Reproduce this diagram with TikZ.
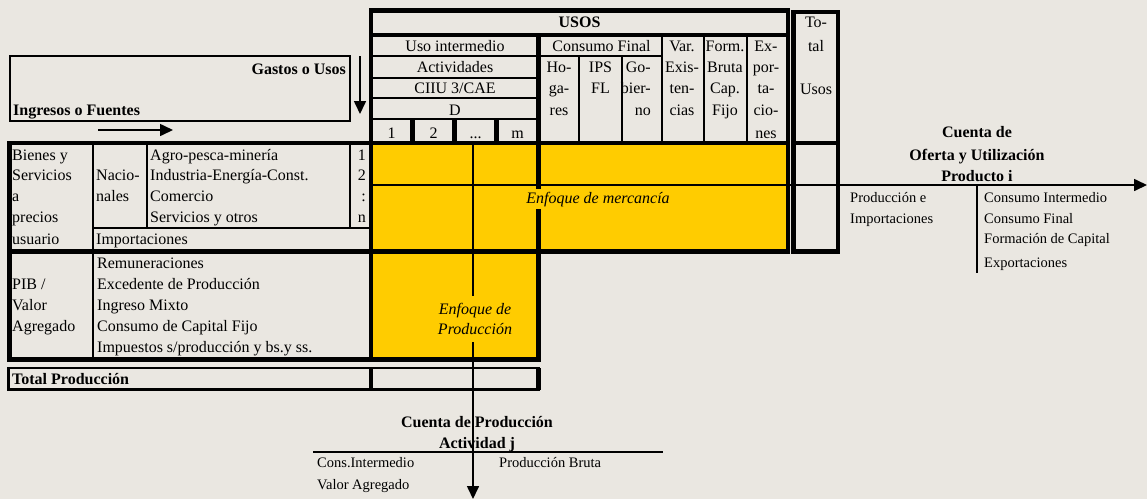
\documentclass[tikz,border=0pt]{standalone}
\usepackage{fontspec}
\setmainfont{Liberation Serif}
\usetikzlibrary{arrows.meta}
\definecolor{papel}{RGB}{234,231,225}
\definecolor{oro}{RGB}{255,204,0}
\tikzset{
  thk/.style={line width=4.5pt},
  thn/.style={line width=1.6pt},
  txt/.style={inner sep=0pt, font=\fontsize{16}{19}\selectfont},
  neg/.style={inner sep=0pt, font=\fontsize{16}{19}\selectfont\bfseries},
  cta/.style={inner sep=0pt, font=\fontsize{14.5}{17}\selectfont},
  flecha/.style={line width=1.6pt, -{Triangle[length=13pt,width=12pt]}},
}

\begin{document}
\begin{tikzpicture}[x=1pt,y=-1pt]
\fill[papel] (0,0) rectangle (1147,499);
\useasboundingbox (0,0) rectangle (1147,499);
\fill[oro] (371,143) rectangle (788,251.5);
\fill[oro] (371,251.5) rectangle (538.5,359.5);

\coordinate (usoA) at (360,56);
\coordinate (usoB) at (360,114);
\coordinate (ingA) at (98,130);
\coordinate (ingB) at (173,130);
\coordinate (mercA) at (373,185);
\coordinate (mercB) at (1147,185);
\coordinate (prodA) at (473,145);
\coordinate (prodB) at (473,499);
\draw[flecha] (usoA) -- (usoB);
\draw[flecha] (ingA) -- (ingB);
\draw[flecha] (mercA) -- (mercB);
\draw[flecha] (prodA) -- (prodB);

\draw[line width=1.8pt] (10,56) rectangle (350,121);
\node[neg, anchor=base east] (gastos) at (346,74) {Gastos o Usos};
\node[neg, anchor=base west] (ingresos) at (13,115) {Ingresos o Fuentes};

\draw[thk] (371,10.5) rectangle (788,143);
\draw[line width=4pt] (371,34.5) -- (788,34.5);
\draw[thk] (538.5,34.5) -- (538.5,143);
\draw[thn] (371,56) -- (662,56);
\draw[thn] (371,78) -- (538.5,78);
\draw[thn] (371,98) -- (538.5,98);
\draw[thn] (371,119) -- (538.5,119);
\draw[thn] (579,56) -- (579,143);
\draw[thn] (622,56) -- (622,143);
\draw[thn] (662,34.5) -- (662,143);
\draw[thn] (704,34.5) -- (704,143);
\draw[thn] (747,34.5) -- (747,143);
\draw[line width=5pt] (412.5,119) -- (412.5,143);
\draw[line width=5pt] (454.5,119) -- (454.5,143);
\draw[line width=5pt] (496.5,119) -- (496.5,143);
\draw[thk] (793.5,12) rectangle (838,143);
\draw[thk] (793.5,143) rectangle (838,251.5);

\node[neg, anchor=base] (usos) at (579.5,27) {USOS};
\node[txt, anchor=base] (usoint) at (455,51) {Uso intermedio};
\node[txt, anchor=base] (activ) at (455,72) {Actividades};
\node[txt, anchor=base] (ciiu) at (455,93) {CIIU 3/CAE};
\node[txt, anchor=base] (dd) at (455,115) {D};
\node[txt, anchor=base] (act1) at (391.5,138) {1};
\node[txt, anchor=base] (act2) at (433.5,138) {2};
\node[txt, anchor=base] (actp) at (475.5,138) {...};
\node[txt, anchor=base] (actm) at (517.5,138) {m};
\node[txt, anchor=base] (consfin) at (601.5,51) {Consumo Final};
\node[txt, anchor=base] (hog1) at (559,72) {Ho-};
\node[txt, anchor=base] (hog2) at (559,93) {ga-};
\node[txt, anchor=base] (hog3) at (559,115) {res};
\node[txt, anchor=base] (ips1) at (600.5,72) {IPS};
\node[txt, anchor=base] (ips2) at (600.5,93) {FL};
\node[txt, anchor=base east] (gob1) at (651,72) {Go-};
\node[txt, anchor=base east] (gob2) at (651,93) {bier-};
\node[txt, anchor=base east] (gob3) at (651,115) {no};
\node[txt, anchor=base] (var1) at (682,51) {Var.};
\node[txt, anchor=base] (var2) at (682,72) {Exis-};
\node[txt, anchor=base] (var3) at (682,93) {ten-};
\node[txt, anchor=base] (var4) at (682,115) {cias};
\node[txt, anchor=base] (fbk1) at (725,51) {Form.};
\node[txt, anchor=base] (fbk2) at (725,72) {Bruta};
\node[txt, anchor=base] (fbk3) at (725,93) {Cap.};
\node[txt, anchor=base] (fbk4) at (725,115) {Fijo};
\node[txt, anchor=base] (exp1) at (766,51) {Ex-};
\node[txt, anchor=base] (exp2) at (766,72) {por-};
\node[txt, anchor=base] (exp3) at (766,93) {ta-};
\node[txt, anchor=base] (exp4) at (766,115) {cio-};
\node[txt, anchor=base] (exp5) at (766,138) {nes};
\node[txt, anchor=base] (tot1) at (816,27) {To-};
\node[txt, anchor=base] (tot2) at (816,51) {tal};
\node[txt, anchor=base] (tot3) at (816,94) {Usos};

\draw[thk] (9.5,143) rectangle (788,251.5);
\draw[thk] (371,143) -- (371,251.5);
\draw[thk] (538.5,143) -- (538.5,251.5);
\draw[thn] (93,143) -- (93,251.5);
\draw[thn] (147,143) -- (147,228);
\draw[thn] (350,143) -- (350,228);
\draw[thn] (93,228) -- (371,228);
\node[txt, anchor=base west] (bs1) at (12,160) {Bienes y};
\node[txt, anchor=base west] (bs2) at (12,180) {Servicios};
\node[txt, anchor=base west] (bs3) at (12,201) {a};
\node[txt, anchor=base west] (bs4) at (12,222) {precios};
\node[txt, anchor=base west] (bs5) at (12,244) {usuario};
\node[txt, anchor=base west] (nac1) at (96,180) {Nacio-};
\node[txt, anchor=base west] (nac2) at (96,201) {nales};
\node[txt, anchor=base west] (agro) at (150,160) {Agro-pesca-minería};
\node[txt, anchor=base west] (indus) at (150,180) {Industria-Energía-Const.};
\node[txt, anchor=base west] (comer) at (150,201) {Comercio};
\node[txt, anchor=base west] (servi) at (150,222) {Servicios y otros};
\node[txt, anchor=base west] (impor) at (96,244) {Importaciones};
\node[txt, anchor=base east] (prod1) at (366,160) {1};
\node[txt, anchor=base east] (prod2) at (366,180) {2};
\node[txt, anchor=base east] (prod3) at (366,201) {:};
\node[txt, anchor=base east] (prodn) at (366,222) {n};
\node[txt, anchor=base, fill=oro, inner xsep=3pt, inner ysep=3pt, font=\fontsize{16}{19}\selectfont\itshape] (merc) at (598,203) {Enfoque de mercancía};

\draw[thk] (9.5,251.5) rectangle (538.5,359.5);
\draw[thk] (371,251.5) -- (371,359.5);
\draw[thn] (93,251.5) -- (93,359.5);
\node[txt, anchor=base west] (pib1) at (12,289) {PIB /};
\node[txt, anchor=base west] (pib2) at (12,310) {Valor};
\node[txt, anchor=base west] (pib3) at (12,331) {Agregado};
\node[txt, anchor=base west] (remu) at (97,268) {Remuneraciones};
\node[txt, anchor=base west] (exce) at (97,289) {Excedente de Producción};
\node[txt, anchor=base west] (mixto) at (97,310) {Ingreso Mixto};
\node[txt, anchor=base west] (ckf) at (97,331) {Consumo de Capital Fijo};
\node[txt, anchor=base west] (impu) at (97,352) {Impuestos s/producción y bs.y ss.};
\node[fill=oro, inner xsep=4pt, inner ysep=7pt, align=center, font=\fontsize{16}{20}\selectfont\itshape] (enfprod) at (475,319) {Enfoque de\\Producción};

\draw[line width=2.5pt] (8.5,368) rectangle (538.5,389.5);
\draw[thk] (371,368) -- (371,389.5);
\draw[thk] (538.5,368) -- (538.5,389.5);
\node[neg, anchor=base west] (totprod) at (12,384) {Total Producción};

\node[neg, anchor=base] (cof1) at (977,137) {Cuenta de};
\node[neg, anchor=base] (cof2) at (977,160) {Oferta y Utilización};
\node[neg, anchor=base] (cof3) at (977,181) {Producto i};
\draw[line width=2pt] (847,185) -- (1093,185);
\draw[thn] (977,185) -- (977,273);
\node[cta, anchor=base west] (ofe1) at (850,202.5) {Producción e};
\node[cta, anchor=base west] (ofe2) at (850,223.5) {Importaciones};
\node[cta, anchor=base west] (uti1) at (984,202.5) {Consumo Intermedio};
\node[cta, anchor=base west] (uti2) at (984,223.5) {Consumo Final};
\node[cta, anchor=base west] (uti3) at (984,243.5) {Formación de Capital};
\node[cta, anchor=base west] (uti4) at (984,267.5) {Exportaciones};

\node[neg, anchor=base] (cpr1) at (477,427) {Cuenta de Producción};
\node[neg, anchor=base] (cpr2) at (477,448) {Actividad j};
\draw[line width=2pt] (313,452) -- (663,452);
\node[cta, anchor=base west] (cpr3) at (317,467.5) {Cons.Intermedio};
\node[cta, anchor=base west] (cpr4) at (317,489.5) {Valor Agregado};
\node[cta, anchor=base west] (cpr5) at (499,467.5) {Producción Bruta};
\end{tikzpicture}
\end{document}
